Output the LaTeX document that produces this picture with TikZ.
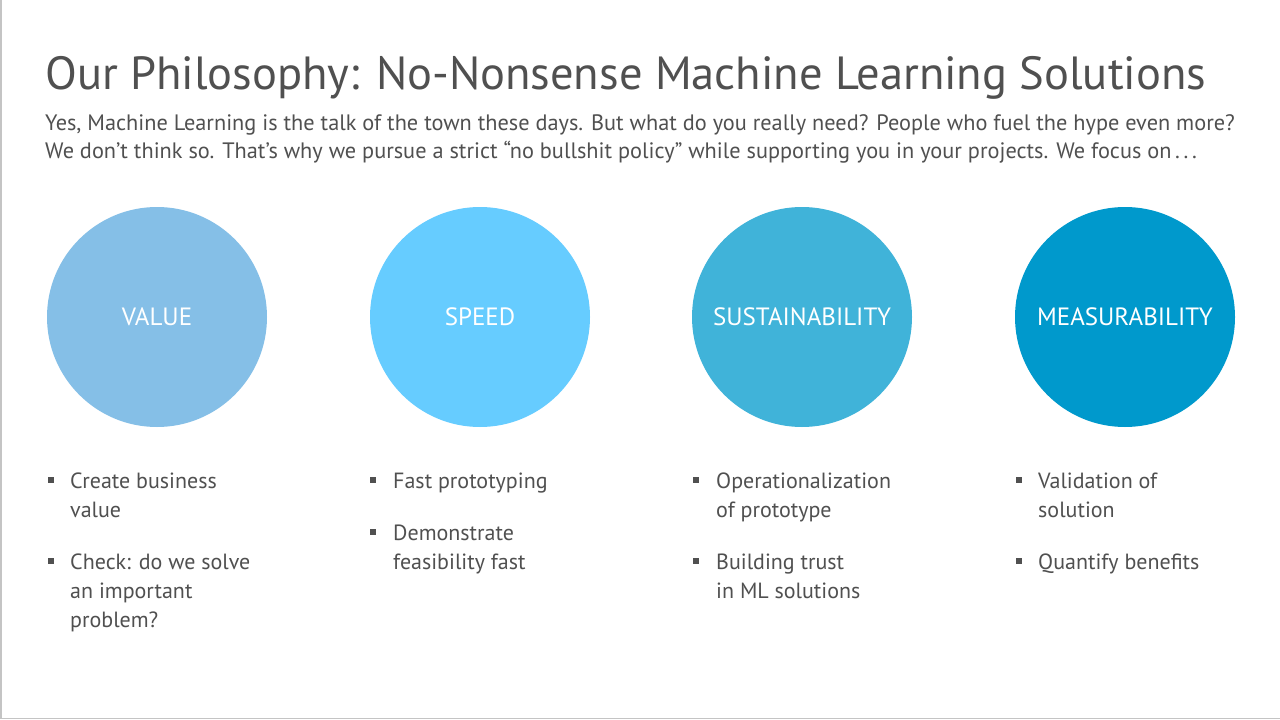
\documentclass[tikz,border=0pt]{standalone}
\usepackage{fontspec}
\setmainfont{PT Sans}
\definecolor{txt}{HTML}{505050}
\definecolor{cvalue}{HTML}{85BFE7}
\definecolor{cspeed}{HTML}{66CCFF}
\definecolor{csust}{HTML}{40B3D9}
\definecolor{cmeas}{HTML}{0099CC}
\definecolor{frame}{HTML}{C4C4C4}
\tikzset{
  title/.style={anchor=base west,inner sep=0pt,text=txt,font=\fontsize{46.5}{56}\selectfont},
  sub/.style={anchor=base west,inner sep=0pt,text=txt,font=\fontsize{22.3}{28}\selectfont},
  disc/.style={circle,minimum size=220pt,inner sep=0pt,text=white,font=\fontsize{25}{30}\selectfont},
  item/.style={anchor=base west,inner sep=0pt,text=txt,font=\fontsize{22}{28}\selectfont},
  bulsq/.style={rectangle,fill=txt,minimum size=6.5pt,inner sep=0pt},
}
\begin{document}
\begin{tikzpicture}[x=1pt,y=-1pt]
\useasboundingbox (0,0) rectangle (1280,720);
\fill[white] (0,0) rectangle (1280,720);
\draw[frame,line width=1.5pt] (0.75,0) -- (0.75,718.5) -- (1280,718.5);

\node[title] (t) at (45,89) {Our Philosophy: No-Nonsense Machine Learning Solutions};
\node[sub] (s1) at (45,130) {Yes, Machine Learning is the talk of the town these days. But what do you really need? People who fuel the hype even more?};
\node[sub] (s2) at (45,158) {We don’t think so. That’s why we pursue a strict “no bullshit policy” while supporting you in your projects. We focus on\,.\,.\,.};

\node[disc,fill=cvalue] (c1) at (157,317) {VALUE};
\node[disc,fill=cspeed] (c2) at (480,317) {SPEED};
\node[disc,fill=csust] (c3) at (802,317) {SUSTAINABILITY};
\node[disc,fill=cmeas] (c4) at (1125,317) {MEASURABILITY};

% column 1
\node[bulsq] (b11) at (51,480) {};
\node[item] (l11) at (70,488) {Create business};
\node[item] (l12) at (70,517) {value};
\node[bulsq] (b12) at (51,561) {};
\node[item] (l13) at (70,569) {Check: do we solve};
\node[item] (l14) at (70,598) {an important};
\node[item] (l15) at (70,627) {problem?};

% column 2
\node[bulsq] (b21) at (373,480) {};
\node[item] (l21) at (393,488) {Fast prototyping};
\node[bulsq] (b22) at (373,532) {};
\node[item] (l22) at (393,540) {Demonstrate};
\node[item] (l23) at (393,569) {feasibility fast};

% column 3
\node[bulsq] (b31) at (696,480) {};
\node[item] (l31) at (716,488) {Operationalization};
\node[item] (l32) at (716,517) {of prototype};
\node[bulsq] (b32) at (696,561) {};
\node[item] (l33) at (716,569) {Building trust};
\node[item] (l34) at (716,598) {in ML solutions};

% column 4
\node[bulsq] (b41) at (1019,480) {};
\node[item] (l41) at (1038,488) {Validation of};
\node[item] (l42) at (1038,517) {solution};
\node[bulsq] (b42) at (1019,561) {};
\node[item] (l43) at (1038,569) {Quantify benefits};
\end{tikzpicture}
\end{document}
